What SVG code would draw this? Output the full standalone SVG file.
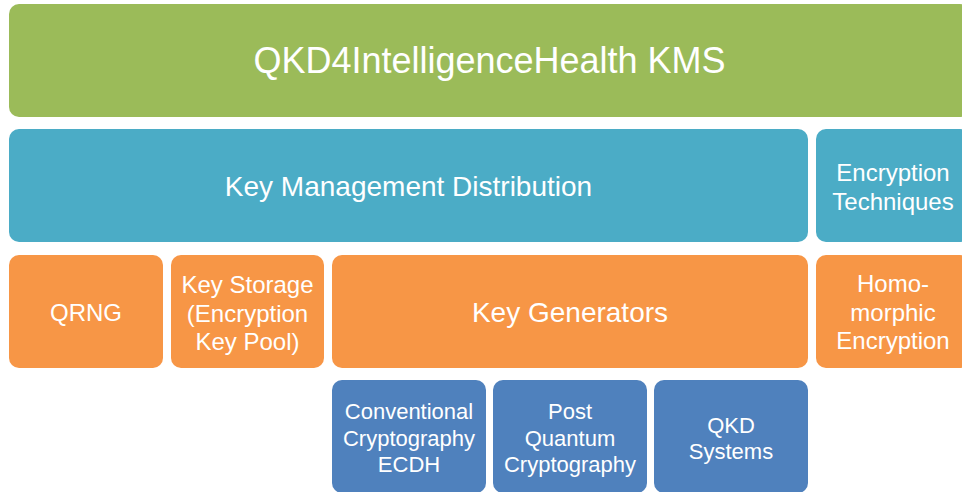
<svg xmlns="http://www.w3.org/2000/svg" width="962" height="492" viewBox="0 0 962 492">
<style>
.t{font-family:"Liberation Sans",Arial,sans-serif;fill:#fff;text-anchor:middle}
.g{fill:#9BBB59}.b{fill:#4BACC6}.o{fill:#F79646}.d{fill:#4F81BD}
</style>
<rect width="962" height="492" fill="#fff"/>
<g id="kms"><rect class="g" x="9" y="4" width="961" height="113" rx="10"/><text class="t" x="489.5" y="73" font-size="36">QKD4IntelligenceHealth KMS</text></g>
<g id="kmd"><rect class="b" x="9" y="129" width="799" height="113" rx="10"/><text class="t" x="408.5" y="196" font-size="28">Key Management Distribution</text></g>
<g id="enc"><rect class="b" x="816" y="129" width="154" height="113" rx="10"/><text class="t" x="893" font-size="24"><tspan x="893" y="181">Encryption</tspan><tspan x="893" y="209.5">Techniques</tspan></text></g>
<g id="qrng"><rect class="o" x="9" y="255" width="154" height="113" rx="10"/><text class="t" x="86" y="321" font-size="24">QRNG</text></g>
<g id="storage"><rect class="o" x="171" y="255" width="153" height="113" rx="10"/><text class="t" font-size="24"><tspan x="247.5" y="293">Key Storage</tspan><tspan x="247.5" y="321.5">(Encryption</tspan><tspan x="247.5" y="350">Key Pool)</tspan></text></g>
<g id="keygen"><rect class="o" x="332" y="255" width="476" height="113" rx="10"/><text class="t" x="570" y="322" font-size="28">Key Generators</text></g>
<g id="homo"><rect class="o" x="816" y="255" width="154" height="113" rx="10"/><text class="t" font-size="24"><tspan x="893" y="292">Homo-</tspan><tspan x="893" y="320.7">morphic</tspan><tspan x="893" y="349.3">Encryption</tspan></text></g>
<g id="conv"><rect class="d" x="332" y="380" width="154" height="113" rx="10"/><text class="t" font-size="22"><tspan x="409" y="419">Conventional</tspan><tspan x="409" y="445.5">Cryptography</tspan><tspan x="409" y="472">ECDH</tspan></text></g>
<g id="pqc"><rect class="d" x="493" y="380" width="154" height="113" rx="10"/><text class="t" font-size="22"><tspan x="570" y="419">Post</tspan><tspan x="570" y="445.5">Quantum</tspan><tspan x="570" y="472">Cryptography</tspan></text></g>
<g id="qkd"><rect class="d" x="654" y="380" width="154" height="113" rx="10"/><text class="t" font-size="22"><tspan x="731" y="432.5">QKD</tspan><tspan x="731" y="459">Systems</tspan></text></g>
<g id="connectors"></g>
</svg>
